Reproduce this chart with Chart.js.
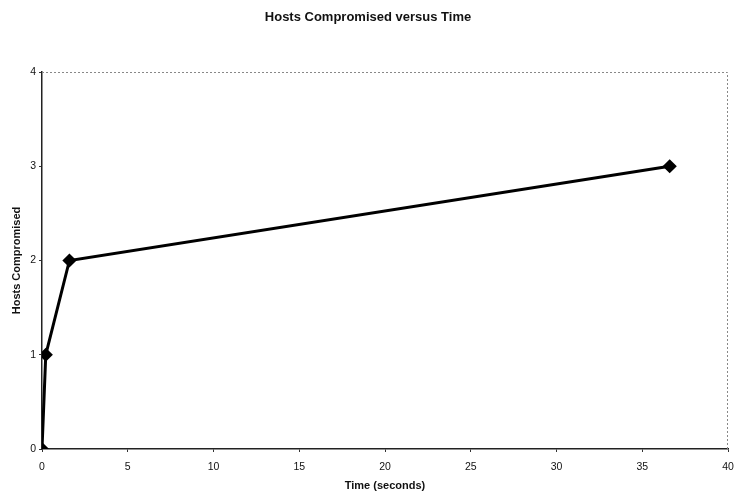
<!DOCTYPE html>
<html>
<head>
<meta charset="utf-8">
<script src="https://cdn.jsdelivr.net/npm/chart.js@4/dist/chart.umd.min.js"></script>
<style>
  html, body { margin: 0; padding: 0; background: #fff; }
  #wrap { width: 736px; height: 496px; }
</style>
</head>
<body>
<div id="wrap"><canvas id="hostsChart" width="736" height="496"></canvas></div>
<script>
// data
const timeSeconds = [0, 0.22, 1.6, 36.6];
const hostsCompromised = [0, 1, 2, 3];
const xTicks = [0, 5, 10, 15, 20, 25, 30, 35, 40];
const yTicks = [0, 1, 2, 3, 4];

const points = timeSeconds.map((t, i) => ({ x: t, y: hostsCompromised[i] }));

// dotted frame on top / right like the original
const frame = {
  id: "frame",
  afterDraw(chart) {
    const { ctx, chartArea: a } = chart;
    ctx.save();
    ctx.strokeStyle = "#888";
    ctx.lineWidth = 1;
    ctx.setLineDash([2, 2]);
    ctx.beginPath();
    ctx.moveTo(a.left, a.top + 0.5);
    ctx.lineTo(a.right - 0.5, a.top + 0.5);
    ctx.lineTo(a.right - 0.5, a.bottom);
    ctx.stroke();
    ctx.restore();
  },
};

Chart.defaults.font.family = "'Liberation Sans', Arial, sans-serif";
Chart.defaults.color = "#111";

new Chart(document.getElementById("hostsChart"), {
  type: "scatter",
  data: {
    datasets: [
      {
        label: "Hosts Compromised",
        data: points,
        showLine: true,
        borderColor: "#000",
        borderWidth: 3,
        backgroundColor: "#000",
        pointStyle: "rectRot",
        pointRadius: 5,
        tension: 0,
      },
    ],
  },
  options: {
    responsive: false,
    animation: false,
    layout: { padding: 0 },
    plugins: {
      legend: { display: false },
      tooltip: { enabled: false },
      title: {
        display: true,
        text: "Hosts Compromised versus Time",
        font: { size: 13, weight: "bold" },
        padding: { top: 10, bottom: 46.4 },
      },
    },
    scales: {
      x: {
        type: "linear",
        min: 0,
        max: 40,
        afterBuildTicks: (s) => { s.ticks = xTicks.map((v) => ({ value: v })); },
        afterFit: (s) => { s.height = 47; s.paddingRight = 0; },
        grid: { drawOnChartArea: false, drawTicks: true, tickLength: 3, color: "#333" },
        border: { color: "#222", width: 1.5 },
        ticks: { font: { size: 10.5 }, padding: 9 },
        title: {
          display: true,
          text: "Time (seconds)",
          font: { size: 11, weight: "bold" },
          padding: { top: 4, bottom: 3 },
        },
      },
      y: {
        type: "linear",
        min: 0,
        max: 4,
        afterBuildTicks: (s) => { s.ticks = yTicks.map((v) => ({ value: v })); },
        afterFit: (s) => { s.width = 42; },
        grid: { drawOnChartArea: false, drawTicks: true, tickLength: 3, color: "#333" },
        border: { color: "#222", width: 1.5 },
        ticks: { font: { size: 10.5 }, padding: 3 },
        title: {
          display: true,
          text: "Hosts Compromised",
          font: { size: 11, weight: "bold" },
          padding: { top: 10, bottom: 0 },
        },
      },
    },
  },
  plugins: [frame],
});
</script>
</body>
</html>
